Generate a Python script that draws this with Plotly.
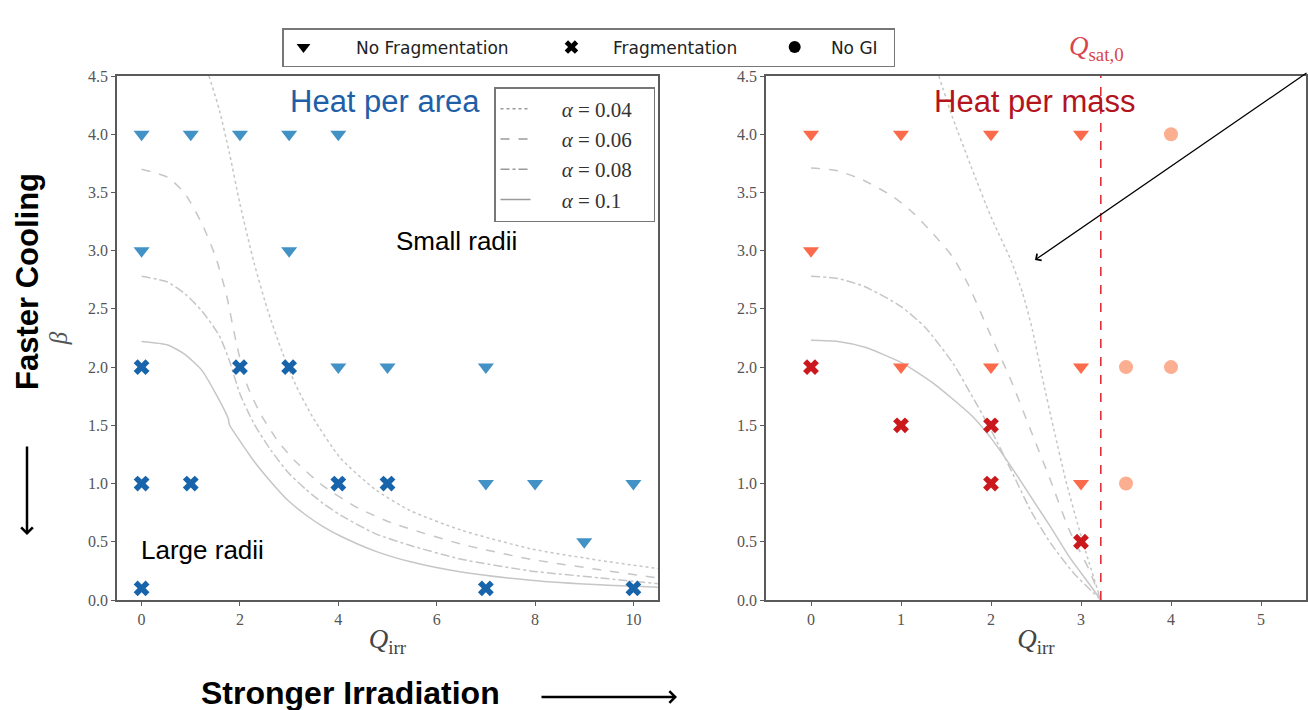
import plotly.graph_objects as go

W, H = 1308, 710

# ---------------- data: heat per area (left) ----------------
area_nofrag_q = [0, 1, 2, 3, 4, 0, 3, 4, 5, 7, 7, 8, 10, 9]
area_nofrag_beta = [4, 4, 4, 4, 4, 3, 3, 2, 2, 2, 1, 1, 1, 0.5]
area_frag_q = [0, 2, 3, 0, 1, 4, 5, 0, 7, 10]
area_frag_beta = [2, 2, 2, 1, 1, 1, 1, 0.1, 0.1, 0.1]

# ---------------- data: heat per mass (right) ----------------
mass_nofrag_q = [0, 1, 2, 3, 0, 1, 2, 3, 3]
mass_nofrag_beta = [4, 4, 4, 4, 3, 2, 2, 2, 1]
mass_frag_q = [0, 1, 2, 2, 3]
mass_frag_beta = [2, 1.5, 1.5, 1, 0.5]
mass_nogi_q = [4, 3.5, 4, 3.5]
mass_nogi_beta = [4, 2, 2, 1]

Q_SAT0 = 3.22

alpha_labels = ["0.04", "0.06", "0.08", "0.1"]
alpha_dash = ["dot", "dash", "dashdot", "solid"]

# critical curves (left panel)
area_a004_q = [1.37, 1.58, 1.79, 2.0, 2.29, 2.57, 2.85, 3.13, 3.48, 4.04, 4.75, 5.45, 6.5, 7.91, 9.32, 10.5]
area_a004_b = [4.5, 4.21, 3.83, 3.40, 2.89, 2.48, 2.14, 1.85, 1.57, 1.22, 0.95, 0.77, 0.6, 0.44, 0.34, 0.27]
area_a006_q = [0, 0.53, 0.88, 1.23, 1.51, 1.72, 1.93, 2.14, 2.43, 2.78, 3.13, 3.69, 4.40, 5.10, 6.5, 7.91, 9.32, 10.5]
area_a006_b = [3.70, 3.63, 3.49, 3.23, 2.94, 2.63, 2.20, 1.85, 1.59, 1.36, 1.19, 0.98, 0.79, 0.66, 0.48, 0.35, 0.26, 0.19]
area_a008_q = [0, 0.53, 0.88, 1.23, 1.58, 1.79, 2.0, 2.29, 2.64, 2.99, 3.34, 3.69, 4.04, 4.75, 5.45, 6.5, 7.91, 9.32, 10.5]
area_a008_b = [2.78, 2.73, 2.63, 2.48, 2.27, 2.05, 1.77, 1.51, 1.28, 1.09, 0.95, 0.83, 0.73, 0.57, 0.47, 0.35, 0.25, 0.19, 0.14]
area_a01_q = [0, 0.53, 0.88, 1.23, 1.51, 1.76, 1.79, 1.93, 2.29, 2.64, 2.99, 3.34, 3.69, 4.04, 4.75, 5.45, 6.5, 7.91, 9.32, 10.5]
area_a01_b = [2.22, 2.19, 2.11, 1.97, 1.77, 1.56, 1.50, 1.41, 1.19, 1.01, 0.85, 0.73, 0.63, 0.55, 0.42, 0.33, 0.24, 0.17, 0.13, 0.11]

# critical curves (right panel)
mass_a004_q = [1.42, 1.57, 1.78, 2.0, 2.22, 2.35, 2.46, 2.57, 2.70, 2.83, 2.96, 3.09, 3.22]
mass_a004_b = [4.5, 4.15, 3.72, 3.29, 2.92, 2.64, 2.32, 1.91, 1.46, 1.03, 0.66, 0.32, 0.0]
mass_a006_q = [0, 0.27, 0.57, 0.92, 1.14, 1.35, 1.57, 1.74, 1.97, 2.22, 2.44, 2.66, 2.87, 3.09, 3.22]
mass_a006_b = [3.71, 3.69, 3.61, 3.46, 3.32, 3.15, 2.95, 2.72, 2.32, 1.89, 1.46, 1.03, 0.60, 0.26, 0.0]
mass_a008_q = [0, 0.3, 0.6, 1.0, 1.27, 1.58, 1.79, 2.0, 2.22, 2.44, 2.66, 2.92, 3.22]
mass_a008_b = [2.78, 2.76, 2.69, 2.52, 2.34, 2.03, 1.75, 1.46, 1.12, 0.77, 0.49, 0.23, 0.0]
mass_a01_q = [0, 0.3, 0.6, 1.0, 1.36, 1.79, 2.0, 2.22, 2.44, 2.66, 2.87, 3.09, 3.22]
mass_a01_b = [2.23, 2.22, 2.17, 2.04, 1.86, 1.58, 1.39, 1.15, 0.89, 0.63, 0.37, 0.14, 0.0]

area_curves = [(area_a004_q, area_a004_b), (area_a006_q, area_a006_b),
               (area_a008_q, area_a008_b), (area_a01_q, area_a01_b)]
mass_curves = [(mass_a004_q, mass_a004_b), (mass_a006_q, mass_a006_b),
               (mass_a008_q, mass_a008_b), (mass_a01_q, mass_a01_b)]

# colours
BLUE_TRI = "#4292c6"
BLUE_X = "#1764ab"
RED_TRI = "#fb6a4a"
RED_X = "#cb181d"
RED_CIRC = "#fcae91"
CURVE = "#c6c6c6"
CURVE_LEG = "#9a9a9a"
AXC = "#5a5a5a"
SERIF = "Liberation Serif, DejaVu Serif, serif"
SANS = "Liberation Sans, Arial, sans-serif"

fig = go.Figure()

# curves
for (q, b), dash in zip(area_curves, alpha_dash):
    fig.add_trace(go.Scatter(x=q, y=b, mode="lines", xaxis="x", yaxis="y",
                             line=dict(color=CURVE, width=1.5, dash=dash, shape="spline", smoothing=0.6),
                             showlegend=False, hoverinfo="skip"))
for (q, b), dash in zip(mass_curves, alpha_dash):
    fig.add_trace(go.Scatter(x=q, y=b, mode="lines", xaxis="x2", yaxis="y2",
                             line=dict(color=CURVE, width=1.5, dash=dash, shape="spline", smoothing=0.6),
                             showlegend=False, hoverinfo="skip"))

# markers
def pts(x, y, sym, col, size, xa, ya):
    fig.add_trace(go.Scatter(x=x, y=y, mode="markers", xaxis=xa, yaxis=ya,
                             marker=dict(symbol=sym, color=col, size=size, line=dict(width=0)),
                             showlegend=False))

pts(area_nofrag_q, area_nofrag_beta, "triangle-down", BLUE_TRI, 14, "x", "y")
pts(area_frag_q, area_frag_beta, "x", BLUE_X, 14, "x", "y")
pts(mass_nofrag_q, mass_nofrag_beta, "triangle-down", RED_TRI, 14, "x2", "y2")
pts(mass_frag_q, mass_frag_beta, "x", RED_X, 14, "x2", "y2")
pts(mass_nogi_q, mass_nogi_beta, "circle", RED_CIRC, 14, "x2", "y2")

# top legend entries
NB = "\u00a0"
top_names = [NB * 6 + "No Fragmentation" + NB * 7,
             NB * 4 + "Fragmentation" + NB * 6,
             NB * 3 + "No GI" + NB * 2]
top_syms = ["triangle-down", "x", "circle"]
for nm, sym in zip(top_names, top_syms):
    fig.add_trace(go.Scatter(x=[None], y=[None], mode="markers", name=nm, legend="legend",
                             marker=dict(symbol=sym, color="black", size=12, line=dict(width=0))))

# alpha legend entries
for lab, dash in zip(alpha_labels, alpha_dash):
    fig.add_trace(go.Scatter(x=[None], y=[None], mode="lines",
                             name=NB * 5 + "<i>α</i>" + NB + "=" + NB + lab + NB * 3,
                             legend="legend2", line=dict(color=CURVE_LEG, width=1.5, dash=dash)))

def px(xp):
    return xp / W

def py(yp):
    return 1 - yp / H

axis_common = dict(showline=True, linecolor=AXC, linewidth=1.5, mirror=True, ticks="outside",
                   ticklen=4, tickcolor=AXC, tickwidth=1.2, showgrid=False, zeroline=False,
                   automargin=False,
                   tickfont=dict(family=SERIF, size=16, color="#555555"))

QIRR = "<i>Q</i><sub>irr</sub>"

fig.update_layout(
    width=W, height=H, margin=dict(l=0, r=0, t=0, b=0, autoexpand=False),
    paper_bgcolor="white", plot_bgcolor="white",
    xaxis=dict(domain=[px(117), px(658)], range=[-0.5, 10.5], tickvals=[0, 2, 4, 6, 8, 10],
               title=dict(text=QIRR, font=dict(family=SERIF, size=27, color="#444"), standoff=2),
               anchor="y", **axis_common),
    yaxis=dict(domain=[py(600), py(76)], range=[0, 4.5], dtick=0.5, tickformat=".1f",
               title=dict(text="<i>β</i>", font=dict(family=SERIF, size=25, color="#555"), standoff=13),
               anchor="x", **axis_common),
    xaxis2=dict(domain=[px(766), px(1306)], range=[-0.5, 5.5], dtick=1,
                title=dict(text=QIRR, font=dict(family=SERIF, size=27, color="#444"), standoff=2),
                anchor="y2", **axis_common),
    yaxis2=dict(domain=[py(600), py(76)], range=[0, 4.5], dtick=0.5, tickformat=".1f",
                anchor="x2", **axis_common),
    legend=dict(orientation="h", x=px(282), y=py(28), xanchor="left", yanchor="top",
                bgcolor="white", bordercolor="#777777", borderwidth=1.5,
                font=dict(family="DejaVu Sans, sans-serif", size=17, color="#222")),
    legend2=dict(orientation="v", x=px(494), y=py(87), xanchor="left", yanchor="top",
                 bgcolor="white", bordercolor="#777777", borderwidth=1.5, tracegroupgap=0,
                 font=dict(family=SERIF, size=21, color="#333")),
    shapes=[dict(type="line", xref="x2", yref="y2 domain", x0=Q_SAT0, x1=Q_SAT0, y0=0, y1=1,
                 line=dict(color="#e0303a", width=1.6, dash="dash"))],
)

def label(xp, yp, text, font, **kw):
    return dict(x=px(xp), y=py(yp), xref="paper", yref="paper", text=text, showarrow=False,
                xanchor="center", yanchor="middle", font=font, **kw)

ann = [
    label(385, 101, "Heat per area", dict(family=SANS, size=31, color="#1f5fa8")),
    label(1035, 101, "Heat per mass", dict(family=SANS, size=31, color="#b3141e")),
    label(456, 241, "Small radii", dict(family=SANS, size=26, color="black")),
    label(202, 550, "Large radii", dict(family=SANS, size=26, color="black")),
    label(27, 282, "<b>Faster Cooling</b>", dict(family=SANS, size=31, color="black"), textangle=-90),
    label(350, 693, "<b>Stronger Irradiation</b>", dict(family=SANS, size=32, color="black")),
    label(1096, 48, "<i>Q</i><sub>sat,0</sub>", dict(family=SERIF, size=27, color="#d9454d")),
]
# arrows
ann.append(dict(x=px(27), y=py(535), xref="paper", yref="paper", text="", showarrow=True,
                ax=0, ay=-90, arrowhead=4, arrowsize=0.9, arrowwidth=2.5, arrowcolor="black"))
ann.append(dict(x=px(677), y=py(697), xref="paper", yref="paper", text="", showarrow=True,
                ax=-137, ay=0, arrowhead=4, arrowsize=0.9, arrowwidth=2.5, arrowcolor="black"))
ann.append(dict(x=px(1035), y=py(260), xref="paper", yref="paper", text="", showarrow=True,
                ax=273, ay=-188, arrowhead=4, arrowsize=1.2, arrowwidth=1.3, arrowcolor="black"))
fig.update_layout(annotations=ann)

fig.write_html("out.html", config={"displayModeBar": False},
               post_script="document.body.style.margin='0';document.body.style.overflow='hidden';")
